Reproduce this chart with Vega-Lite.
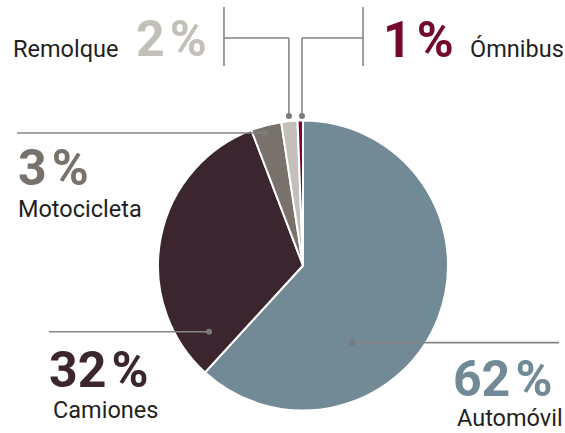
{
  "$schema": "https://vega.github.io/schema/vega-lite/v6.json",
  "width": 565,
  "height": 433,
  "autosize": {"type": "none"},
  "padding": 0,
  "background": "white",
  "config": {"view": {"stroke": null}},
  "datasets": {
    "pie": [
      {"category": "Automóvil", "value": 61.8, "ord": 1},
      {"category": "Camiones", "value": 32.4, "ord": 2},
      {"category": "Motocicleta", "value": 3.4, "ord": 3},
      {"category": "Remolque", "value": 1.8, "ord": 4},
      {"category": "Ómnibus", "value": 0.6, "ord": 5}
    ],
    "lines": [
      {"X": -54.5, "Y": 178.3, "X2": -54.5, "Y2": 137.6},
      {"X": -54.5, "Y": 156.9, "X2": -9.7, "Y2": 156.9},
      {"X": -9.7, "Y": 156.9, "X2": -9.7, "Y2": 103.1},
      {"X": 41.4, "Y": 178.3, "X2": 41.4, "Y2": 137.6},
      {"X": 41.4, "Y": 156.9, "X2": -0.7, "Y2": 156.9},
      {"X": -0.7, "Y": 156.9, "X2": -0.7, "Y2": 103.1},
      {"X": -197.2, "Y": 91.4, "X2": -26.2, "Y2": 91.4},
      {"X": -175.2, "Y": -45.7, "X2": -64.8, "Y2": -45.7},
      {"X": 33.8, "Y": -53.2, "X2": 176.6, "Y2": -53.2}
    ],
    "dots": [
      {"X": -9.7, "Y": 103.1},
      {"X": -0.7, "Y": 103.1},
      {"X": -26.2, "Y": 91.4},
      {"X": -64.8, "Y": -45.7},
      {"X": 33.8, "Y": -53.2}
    ],
    "labels": [
      {"category": "Remolque", "kind": "pct", "text": "2\u200a%", "X": -115.2, "Y": 144.5},
      {"category": "Remolque", "kind": "name", "text": "Remolque", "X": -200, "Y": 143.8},
      {"category": "Ómnibus", "kind": "pct", "text": "1\u200a%", "X": 55.2, "Y": 144.1},
      {"category": "Ómnibus", "kind": "name", "text": "Ómnibus", "X": 115.2, "Y": 143.8},
      {"category": "Motocicleta", "kind": "pct", "text": "3\u200a%", "X": -196.6, "Y": 55.5},
      {"category": "Motocicleta", "kind": "name", "text": "Motocicleta", "X": -196.6, "Y": 33.4},
      {"category": "Camiones", "kind": "pct", "text": "32\u200a%", "X": -175.2, "Y": -83.8},
      {"category": "Camiones", "kind": "name", "text": "Camiones", "X": -172.4, "Y": -105.2},
      {"category": "Automóvil", "kind": "pct", "text": "62\u200a%", "X": 103.4, "Y": -90},
      {"category": "Automóvil", "kind": "name", "text": "Automóvil", "X": 106.2, "Y": -110.7}
    ]
  },
  "layer": [
    {
      "data": {"name": "pie"},
      "mark": {"type": "arc", "outerRadius": 145, "stroke": "white", "strokeWidth": 2},
      "encoding": {
        "x": {"datum": 0, "type": "quantitative", "scale": {"domain": [-208.97, 180.69]}, "axis": null},
        "y": {"datum": 0, "type": "quantitative", "scale": {"domain": [-115.52, 183.1]}, "axis": null},
        "theta": {"field": "value", "type": "quantitative", "stack": true},
        "order": {"field": "ord", "type": "quantitative"},
        "color": {
          "field": "category",
          "type": "nominal",
          "scale": {
            "domain": ["Automóvil", "Camiones", "Motocicleta", "Remolque", "Ómnibus"],
            "range": ["#718a95", "#3b2630", "#79726b", "#c3c0b9", "#75092d"]
          },
          "legend": null
        }
      }
    },
    {
      "data": {"name": "lines"},
      "mark": {"type": "rule", "color": "#858585", "strokeWidth": 1.6},
      "encoding": {
        "x": {"field": "X", "type": "quantitative", "scale": {"domain": [-208.97, 180.69]}, "axis": null},
        "y": {"field": "Y", "type": "quantitative", "scale": {"domain": [-115.52, 183.1]}, "axis": null},
        "x2": {"field": "X2"},
        "y2": {"field": "Y2"}
      }
    },
    {
      "data": {"name": "dots"},
      "mark": {"type": "circle", "color": "#7a7a7a", "size": 36, "opacity": 1},
      "encoding": {
        "x": {"field": "X", "type": "quantitative", "scale": {"domain": [-208.97, 180.69]}, "axis": null},
        "y": {"field": "Y", "type": "quantitative", "scale": {"domain": [-115.52, 183.1]}, "axis": null}
      }
    },
    {
      "data": {"name": "labels"},
      "transform": [{"filter": "datum.kind === 'pct'"}],
      "mark": {"type": "text", "align": "left", "baseline": "alphabetic", "font": "Roboto", "fontWeight": "bold", "fontSize": 50},
      "encoding": {
        "x": {"field": "X", "type": "quantitative", "scale": {"domain": [-208.97, 180.69]}, "axis": null},
        "y": {"field": "Y", "type": "quantitative", "scale": {"domain": [-115.52, 183.1]}, "axis": null},
        "text": {"field": "text"},
        "color": {"field": "category", "type": "nominal", "legend": null}
      }
    },
    {
      "data": {"name": "labels"},
      "transform": [{"filter": "datum.kind === 'name'"}],
      "mark": {"type": "text", "align": "left", "baseline": "alphabetic", "font": "Roboto", "fontSize": 23.5, "color": "#231f20"},
      "encoding": {
        "x": {"field": "X", "type": "quantitative", "scale": {"domain": [-208.97, 180.69]}, "axis": null},
        "y": {"field": "Y", "type": "quantitative", "scale": {"domain": [-115.52, 183.1]}, "axis": null},
        "text": {"field": "text"}
      }
    }
  ]
}
